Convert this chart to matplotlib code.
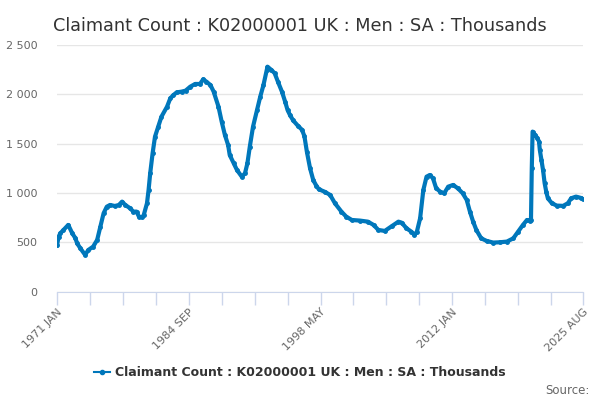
import numpy as np
import matplotlib
matplotlib.use("Agg")
import matplotlib.pyplot as plt
from matplotlib.lines import Line2D

# monthly series (month, thousands)
dates = [
    "1971-01", "1971-03", "1971-05", "1971-09", "1972-03", "1972-08", "1972-12",
    "1973-02", "1973-06", "1973-12", "1974-04", "1974-10", "1975-03", "1975-07",
    "1975-11", "1976-03", "1976-07", "1977-01", "1977-06", "1977-10", "1978-02",
    "1978-08", "1978-12", "1979-04", "1979-07", "1979-11", "1980-01", "1980-05",
    "1980-07", "1980-09", "1980-12", "1981-03", "1981-07", "1981-11", "1982-06",
    "1982-10", "1983-02", "1983-06", "1983-12", "1984-05", "1984-11", "1985-05",
    "1985-11", "1986-03", "1986-07", "1986-12", "1987-04", "1987-10", "1988-02",
    "1988-06", "1988-10", "1988-12", "1989-05", "1989-09", "1990-03", "1990-07",
    "1990-10", "1991-01", "1991-05", "1991-10", "1992-02", "1992-06", "1992-10",
    "1992-11", "1993-04", "1993-08", "1993-12", "1994-05", "1994-09", "1994-12",
    "1995-03", "1995-07", "1996-01", "1996-06", "1996-09", "1996-12", "1997-04",
    "1997-08", "1997-12", "1998-03", "1998-10", "1999-05", "1999-11", "2000-07",
    "2001-01", "2001-08", "2002-06", "2003-04", "2003-11", "2004-05", "2005-01",
    "2005-10", "2006-06", "2006-10", "2007-04", "2007-10", "2008-02", "2008-05",
    "2008-09", "2009-01", "2009-05", "2009-09", "2010-01", "2010-05", "2010-10",
    "2011-03", "2011-08", "2012-02", "2012-08", "2013-02", "2013-07", "2013-11",
    "2014-03", "2014-07", "2015-01", "2015-08", "2016-04", "2016-12", "2017-09",
    "2018-05", "2018-11", "2019-05", "2019-10", "2020-02", "2020-03", "2020-04",
    "2020-05", "2020-08", "2020-11", "2021-01", "2021-02", "2021-04", "2021-06",
    "2021-08", "2021-10", "2021-12", "2022-05", "2022-11", "2023-07", "2024-01",
    "2024-05", "2024-11", "2025-05", "2025-08",
]
values = [
    470, 555, 590, 625, 676, 591, 540,
    490, 440, 372, 422, 456, 524, 659,
    794, 861, 878, 868, 878, 912, 878,
    845, 811, 811, 760, 753, 777, 895,
    1030, 1199, 1402, 1571, 1672, 1773, 1875,
    1959, 1993, 2020, 2027, 2037, 2078, 2105,
    2105, 2152, 2128, 2094, 2027, 1875, 1723,
    1588, 1486, 1385, 1300, 1233, 1165, 1199,
    1300, 1469, 1672, 1841, 1976, 2094, 2246,
    2280, 2246, 2213, 2128, 2027, 1925, 1841,
    1790, 1735, 1680, 1640, 1575, 1420, 1250,
    1130, 1070, 1037, 1013, 980, 895, 811,
    760, 726, 720, 709, 676, 625, 615,
    665, 709, 699, 642, 608, 574, 608,
    743, 1030, 1165, 1182, 1149, 1047, 1013,
    997, 1064, 1081, 1047, 997, 929, 811,
    709, 625, 540, 513, 497, 500, 507,
    540, 608, 676, 726, 720, 730, 1250,
    1622, 1590, 1555, 1521, 1436, 1335, 1233,
    1099, 1013, 946, 896, 872, 869, 896,
    946, 963, 950, 940,
]
tick_labels = ["1971 JAN", "1984 SEP", "1998 MAY", "2012 JAN", "2025 AUG"]
series_name = "Claimant Count : K02000001 UK : Men : SA : Thousands"

x = np.array([(int(d[:4]) - 1971) * 12 + int(d[5:]) - 1 for d in dates])
y = np.array(values)
last = x[-1]

blue = "#0077bb"
fig = plt.figure(figsize=(6, 4), dpi=100)
ax = fig.add_axes([0.095, 0.271, 0.877, 0.6165])

ax.plot(x, y, color=blue, lw=3.0, marker="o", ms=2.5, solid_joinstyle="round")

ax.set_xlim(0, last)
ax.set_ylim(0, 2500)
ax.set_yticks([0, 500, 1000, 1500, 2000, 2500])
ax.set_yticklabels([f"{v:,}".replace(",", " ") for v in [0, 500, 1000, 1500, 2000, 2500]])
ax.grid(axis="y", color="#e6e6e6", lw=1)
ax.set_axisbelow(True)

major = list(range(0, last, 41)) + [last]
ax.set_xticks(major)
lab = {0: tick_labels[0], 164: tick_labels[1], 328: tick_labels[2], 492: tick_labels[3], last: tick_labels[4]}
ax.set_xticklabels([lab.get(m, "") for m in major], rotation=45, ha="right",
                   rotation_mode="anchor")

for s in ["top", "right", "left"]:
    ax.spines[s].set_visible(False)
ax.spines["bottom"].set_color("#ccd6eb")
ax.tick_params(axis="x", colors="#ccd6eb", length=9, width=1, labelcolor="#666666",
               labelsize=8, pad=2)
ax.tick_params(axis="y", length=0, labelcolor="#666666", labelsize=8, pad=14)

fig.text(0.5, 0.935, series_name, ha="center", va="center", fontsize=12.7, color="#333333")

handle = Line2D([], [], color=blue, lw=1.5, marker="o", ms=3)
leg = fig.legend([handle], [series_name], loc="center", bbox_to_anchor=(0.5, 0.068),
                 frameon=False, prop={"weight": "bold", "size": 9}, handlelength=1.3,
                 handletextpad=0.4)
for t in leg.get_texts():
    t.set_color("#333333")

fig.text(0.983, 0.025, "Source:", ha="right", va="center", fontsize=8.5, color="#666666")

fig.savefig("out.png", dpi=100)
